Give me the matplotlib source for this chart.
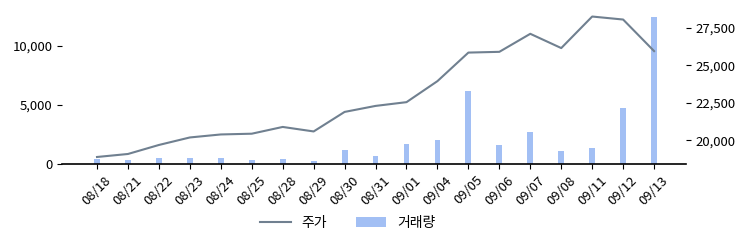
import matplotlib
matplotlib.use("Agg")
import matplotlib.pyplot as plt
from matplotlib.ticker import FuncFormatter
import numpy as np

plt.rcParams['font.family'] = ['Noto Sans CJK KR', 'DejaVu Sans']

dates = ['08/18', '08/21', '08/22', '08/23', '08/24', '08/25', '08/28', '08/29', '08/30', '08/31',
         '09/01', '09/04', '09/05', '09/06', '09/07', '09/08', '09/11', '09/12', '09/13']
price = [18900, 19100, 19700, 20200, 20400, 20450, 20900, 20600, 21900, 22300,
         22550, 23950, 25850, 25900, 27100, 26150, 28250, 28050, 25950]
volume = [420, 340, 510, 510, 510, 340, 420, 250, 1190, 680,
          1690, 2030, 6210, 1610, 2710, 1100, 1360, 4740, 12450]

x = np.arange(len(dates))
comma = FuncFormatter(lambda v, p: '{:,.0f}'.format(v))

fig = plt.figure(figsize=(7.51, 2.47), dpi=100)
ax = fig.add_axes([0.0826, 0.336, 0.8308, 0.6255])
bars = ax.bar(x, volume, width=0.19, color='cornflowerblue', alpha=0.6, label='거래량')
ax.set_ylim(0, max(volume) * 1.05)
ax.set_xlim(-1.13, 19.03)
ax.set_xticks(x)
ax.set_xticklabels(dates, rotation=45)
ax.yaxis.set_major_formatter(comma)

ax2 = ax.twinx()
line, = ax2.plot(x, price, color='slategray', lw=1.5, label='주가')
ax2.yaxis.set_major_formatter(comma)
ax2.set_ylim(min(price) - 0.05 * (max(price) - min(price)),
             max(price) + 0.05 * (max(price) - min(price)))

for a in (ax, ax2):
    for s in ['top', 'left', 'right']:
        a.spines[s].set_visible(False)
    a.tick_params(labelsize=9.5, length=3.5, width=0.8)
ax.spines['bottom'].set_linewidth(1.2)
ax2.spines['bottom'].set_visible(False)
ax.set_zorder(ax2.get_zorder() - 1)

fig.legend([line, bars], ['주가', '거래량'], loc='center', bbox_to_anchor=(0.463, 0.097),
           ncol=2, frameon=False, fontsize=10, handlelength=2.2, handletextpad=0.75,
           columnspacing=2.1)

fig.savefig('out.png', dpi=100)
